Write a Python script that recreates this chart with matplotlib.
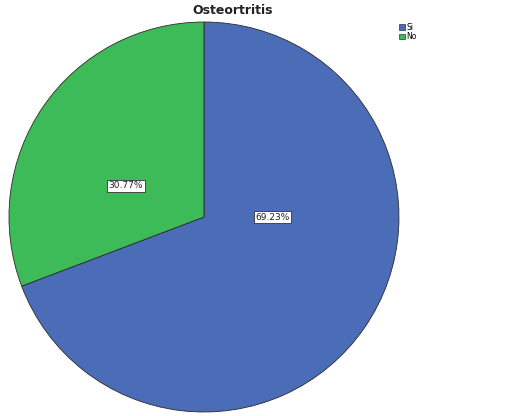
import matplotlib.pyplot as plt
from matplotlib.patches import Patch

categorias = ["Si", "No"]
porcentajes = [69.23, 30.77]
colores = ["#4b6cb7", "#3dbb58"]
# posición de cada etiqueta dentro del sector (unidades del radio)
pos_etiquetas = [(0.35, 0.0), (-0.40, 0.16)]

fig = plt.figure(figsize=(5.28, 4.16), dpi=100)
ax = fig.add_axes([0.017, 0.0096, 0.7386, 0.9375])

wedges, textos, pct = ax.pie(porcentajes, colors=colores, startangle=90,
                             counterclock=False, autopct="%.2f%%",
                             wedgeprops=dict(edgecolor="#2a2a2a", linewidth=0.6))
for t, (x, y) in zip(pct, pos_etiquetas):
    t.set_position((x, y))
    t.set_fontsize(6.5)
    t.set_color("#222222")
    t.set_bbox(dict(boxstyle="square,pad=0.15", facecolor="white",
                    edgecolor="#333333", linewidth=0.6))
ax.set_aspect("equal")
ax.set_xlim(-1.0, 1.0)
ax.set_ylim(-1.0, 1.0)

fig.text(0.441, 0.974, "Osteortritis", ha="center", va="center",
         fontsize=9, fontweight="bold", color="#222222")

handles = [Patch(facecolor=c, edgecolor="#333333", linewidth=0.5) for c in colores]
fig.legend(handles, categorias, loc="upper left", bbox_to_anchor=(0.756, 0.945),
           frameon=False, fontsize=5.5, handlelength=0.75, handleheight=0.75,
           handletextpad=0.2, labelspacing=0.05, borderpad=0, borderaxespad=0)

fig.savefig("out.png", dpi=100)
